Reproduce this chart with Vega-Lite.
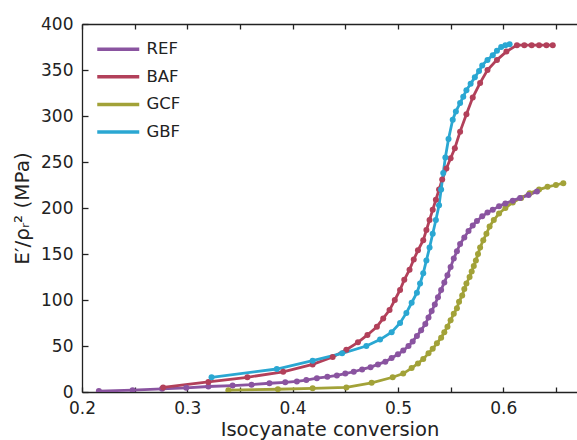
{
  "$schema": "https://vega.github.io/schema/vega-lite/v6.json",
  "width": 495,
  "height": 368,
  "autosize": {"type": "none"},
  "padding": {"left": 82, "top": 24, "right": 0, "bottom": 48},
  "background": "white",
  "config": {
    "view": {"stroke": null},
    "font": "DejaVu Sans",
    "axis": {
      "grid": false,
      "domainColor": "#222222",
      "domainWidth": 1.3,
      "tickColor": "#222222",
      "tickWidth": 1.3,
      "labelFont": "DejaVu Sans",
      "labelFontSize": 17,
      "labelColor": "#222222",
      "titleFont": "DejaVu Sans",
      "titleFontSize": 19.5,
      "titleFontWeight": "normal",
      "titleColor": "#222222"
    },
    "legend": {
      "labelFont": "DejaVu Sans",
      "labelFontSize": 16.5,
      "labelColor": "#222222"
    }
  },
  "data": {"values": [
    {"s":"GCF","x":0.339,"y":2},{"s":"GCF","x":0.386,"y":3},{"s":"GCF","x":0.419,"y":4},{"s":"GCF","x":0.451,"y":5},{"s":"GCF","x":0.475,"y":10},{"s":"GCF","x":0.495,"y":16},{"s":"GCF","x":0.505,"y":20},{"s":"GCF","x":0.513,"y":26},{"s":"GCF","x":0.519,"y":31},{"s":"GCF","x":0.524,"y":36},{"s":"GCF","x":0.529,"y":42},{"s":"GCF","x":0.533,"y":47},{"s":"GCF","x":0.537,"y":53},{"s":"GCF","x":0.541,"y":59},{"s":"GCF","x":0.544,"y":65},{"s":"GCF","x":0.547,"y":71},{"s":"GCF","x":0.550,"y":78},{"s":"GCF","x":0.553,"y":85},{"s":"GCF","x":0.556,"y":91},{"s":"GCF","x":0.558,"y":98},{"s":"GCF","x":0.561,"y":105},{"s":"GCF","x":0.563,"y":112},{"s":"GCF","x":0.565,"y":118},{"s":"GCF","x":0.568,"y":125},{"s":"GCF","x":0.570,"y":131},{"s":"GCF","x":0.572,"y":137},{"s":"GCF","x":0.574,"y":143},{"s":"GCF","x":0.576,"y":150},{"s":"GCF","x":0.578,"y":157},{"s":"GCF","x":0.581,"y":165},{"s":"GCF","x":0.584,"y":172},{"s":"GCF","x":0.587,"y":180},{"s":"GCF","x":0.591,"y":187},{"s":"GCF","x":0.596,"y":194},{"s":"GCF","x":0.602,"y":200},{"s":"GCF","x":0.609,"y":206},{"s":"GCF","x":0.617,"y":211},{"s":"GCF","x":0.625,"y":216},{"s":"GCF","x":0.634,"y":220},{"s":"GCF","x":0.642,"y":223},{"s":"GCF","x":0.650,"y":225},{"s":"GCF","x":0.657,"y":227},
    {"s":"REF","x":0.216,"y":1},{"s":"REF","x":0.248,"y":2},{"s":"REF","x":0.276,"y":3.5},{"s":"REF","x":0.299,"y":4.5},{"s":"REF","x":0.320,"y":6},{"s":"REF","x":0.343,"y":7},{"s":"REF","x":0.361,"y":8},{"s":"REF","x":0.378,"y":9.5},{"s":"REF","x":0.393,"y":10.5},{"s":"REF","x":0.404,"y":11.5},{"s":"REF","x":0.413,"y":13},{"s":"REF","x":0.423,"y":15},{"s":"REF","x":0.433,"y":16.5},{"s":"REF","x":0.442,"y":18},{"s":"REF","x":0.450,"y":20},{"s":"REF","x":0.458,"y":22},{"s":"REF","x":0.466,"y":24.5},{"s":"REF","x":0.474,"y":27},{"s":"REF","x":0.481,"y":30},{"s":"REF","x":0.488,"y":33},{"s":"REF","x":0.494,"y":37},{"s":"REF","x":0.500,"y":41},{"s":"REF","x":0.505,"y":45},{"s":"REF","x":0.510,"y":50},{"s":"REF","x":0.514,"y":55},{"s":"REF","x":0.518,"y":61},{"s":"REF","x":0.522,"y":67},{"s":"REF","x":0.526,"y":74},{"s":"REF","x":0.529,"y":81},{"s":"REF","x":0.532,"y":88},{"s":"REF","x":0.535,"y":95},{"s":"REF","x":0.538,"y":103},{"s":"REF","x":0.541,"y":111},{"s":"REF","x":0.544,"y":119},{"s":"REF","x":0.547,"y":127},{"s":"REF","x":0.550,"y":136},{"s":"REF","x":0.553,"y":145},{"s":"REF","x":0.556,"y":153},{"s":"REF","x":0.559,"y":161},{"s":"REF","x":0.563,"y":168},{"s":"REF","x":0.567,"y":175},{"s":"REF","x":0.571,"y":181},{"s":"REF","x":0.575,"y":186},{"s":"REF","x":0.580,"y":191},{"s":"REF","x":0.585,"y":195},{"s":"REF","x":0.590,"y":198},{"s":"REF","x":0.596,"y":202},{"s":"REF","x":0.602,"y":205},{"s":"REF","x":0.609,"y":208},{"s":"REF","x":0.616,"y":211},{"s":"REF","x":0.624,"y":214},{"s":"REF","x":0.632,"y":218},
    {"s":"BAF","x":0.277,"y":5},{"s":"BAF","x":0.320,"y":11},{"s":"BAF","x":0.357,"y":16},{"s":"BAF","x":0.391,"y":22},{"s":"BAF","x":0.419,"y":30},{"s":"BAF","x":0.438,"y":38},{"s":"BAF","x":0.451,"y":46},{"s":"BAF","x":0.462,"y":54},{"s":"BAF","x":0.471,"y":62},{"s":"BAF","x":0.480,"y":71},{"s":"BAF","x":0.486,"y":80},{"s":"BAF","x":0.492,"y":89},{"s":"BAF","x":0.497,"y":100},{"s":"BAF","x":0.502,"y":111},{"s":"BAF","x":0.506,"y":122},{"s":"BAF","x":0.511,"y":133},{"s":"BAF","x":0.515,"y":144},{"s":"BAF","x":0.519,"y":154},{"s":"BAF","x":0.524,"y":165},{"s":"BAF","x":0.527,"y":176},{"s":"BAF","x":0.530,"y":187},{"s":"BAF","x":0.533,"y":198},{"s":"BAF","x":0.536,"y":209},{"s":"BAF","x":0.539,"y":220},{"s":"BAF","x":0.542,"y":231},{"s":"BAF","x":0.546,"y":243},{"s":"BAF","x":0.550,"y":254},{"s":"BAF","x":0.554,"y":265},{"s":"BAF","x":0.559,"y":283},{"s":"BAF","x":0.565,"y":302},{"s":"BAF","x":0.571,"y":320},{"s":"BAF","x":0.578,"y":336},{"s":"BAF","x":0.585,"y":350},{"s":"BAF","x":0.594,"y":361},{"s":"BAF","x":0.603,"y":370},{"s":"BAF","x":0.613,"y":377},{"s":"BAF","x":0.620,"y":377},{"s":"BAF","x":0.627,"y":377},{"s":"BAF","x":0.634,"y":377},{"s":"BAF","x":0.641,"y":377},{"s":"BAF","x":0.647,"y":377},
    {"s":"GBF","x":0.323,"y":16},{"s":"GBF","x":0.385,"y":25},{"s":"GBF","x":0.419,"y":34},{"s":"GBF","x":0.447,"y":42},{"s":"GBF","x":0.470,"y":50},{"s":"GBF","x":0.483,"y":57},{"s":"GBF","x":0.494,"y":65},{"s":"GBF","x":0.502,"y":75},{"s":"GBF","x":0.508,"y":86},{"s":"GBF","x":0.513,"y":97},{"s":"GBF","x":0.518,"y":108},{"s":"GBF","x":0.521,"y":118},{"s":"GBF","x":0.524,"y":129},{"s":"GBF","x":0.527,"y":143},{"s":"GBF","x":0.530,"y":157},{"s":"GBF","x":0.533,"y":172},{"s":"GBF","x":0.536,"y":187},{"s":"GBF","x":0.539,"y":203},{"s":"GBF","x":0.541,"y":220},{"s":"GBF","x":0.543,"y":238},{"s":"GBF","x":0.545,"y":255},{"s":"GBF","x":0.548,"y":275},{"s":"GBF","x":0.552,"y":296},{"s":"GBF","x":0.555,"y":305},{"s":"GBF","x":0.559,"y":314},{"s":"GBF","x":0.562,"y":321},{"s":"GBF","x":0.565,"y":328},{"s":"GBF","x":0.569,"y":335},{"s":"GBF","x":0.573,"y":342},{"s":"GBF","x":0.577,"y":349},{"s":"GBF","x":0.580,"y":355},{"s":"GBF","x":0.585,"y":361},{"s":"GBF","x":0.590,"y":366},{"s":"GBF","x":0.594,"y":371},{"s":"GBF","x":0.598,"y":375},{"s":"GBF","x":0.602,"y":377},{"s":"GBF","x":0.606,"y":378}
  ]},
  "layer": [
    {
      "mark": {"type": "line", "strokeWidth": 2.8, "clip": true},
      "encoding": {
        "x": {"field": "x", "type": "quantitative",
              "scale": {"domain": [0.2, 0.67], "nice": false, "zero": false},
              "axis": {"orient": "bottom", "title": "Isocyanate conversion", "values": [0.2,0.25,0.3,0.35,0.4,0.45,0.5,0.55,0.6,0.65],
                       "labelExpr": "abs(datum.value*10 - round(datum.value*10)) < 0.01 ? format(datum.value, '.1f') : ''",
                       "tickSize": -5, "labelPadding": 13, "titlePadding": 4, "labelFlush": false}},
        "y": {"field": "y", "type": "quantitative",
              "scale": {"domain": [0, 400], "nice": false},
              "axis": {"title": "E′/ρᵣ² (MPa)", "titleFontSize": 20, "values": [0,25,50,75,100,125,150,175,200,225,250,275,300,325,350,375,400],
                       "labelExpr": "datum.value % 50 == 0 ? datum.label : ''",
                       "tickSize": -6, "labelPadding": 15, "titlePadding": 8, "labelFlush": false}},
        "color": {"field": "s", "type": "nominal",
                  "scale": {"domain": ["REF","BAF","GCF","GBF"], "range": ["#8a54a0","#b2405a","#a2a238","#2aa7d2"]},
                  "legend": {"title": null, "orient": "none", "legendX": 28, "legendY": 17, "symbolType": "M-4.2,0H4.2", "symbolSize": 100, "symbolStrokeWidth": 3.5, "labelOffset": 20, "rowPadding": 10.6}},
        "detail": {"field": "s"}
      }
    },
    {
      "mark": {"type": "point", "filled": true, "opacity": 1, "size": 36, "clip": true},
      "encoding": {
        "x": {"field": "x", "type": "quantitative", "axis": {"orient": "top", "title": null, "labels": false, "values": [0.2,0.25,0.3,0.35,0.4,0.45,0.5,0.55,0.6,0.65], "tickSize": -5}},
        "y": {"field": "y", "type": "quantitative"},
        "color": {"field": "s", "type": "nominal", "legend": null}
      }
    }
  ],
  "resolve": {"axis": {"x": "independent"}}
}
